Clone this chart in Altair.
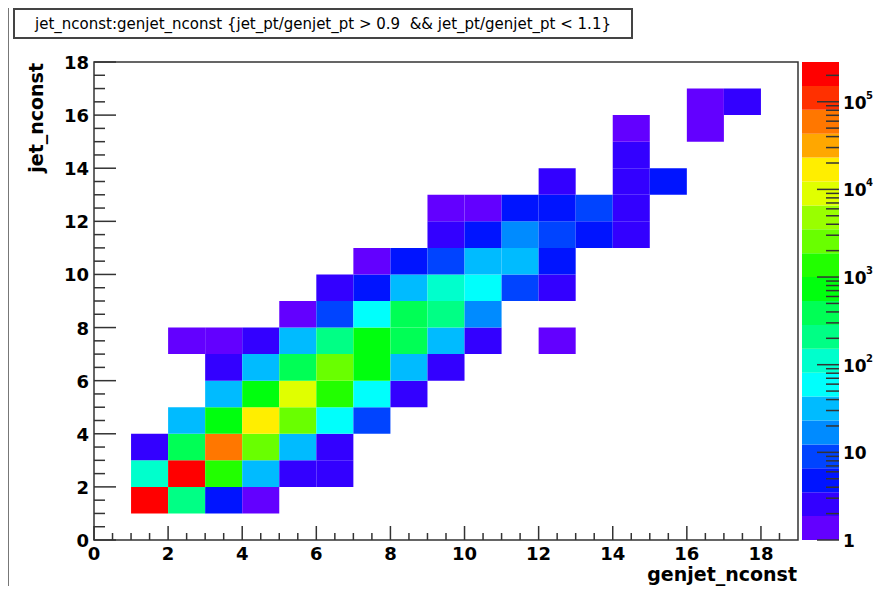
import math
import altair as alt
import pandas as pd

# ---------------- data ----------------
# lower edge of each filled bin (bin width 1) and its content
genjet_bin = [1, 2, 3, 4,
              1, 2, 3, 4, 5, 6,
              1, 2, 3, 4, 5, 6,
              2, 3, 4, 5, 6, 7,
              3, 4, 5, 6, 7, 8,
              3, 4, 5, 6, 7, 8, 9,
              2, 3, 4, 5, 6, 7, 8, 9, 10, 12,
              5, 6, 7, 8, 9, 10,
              6, 7, 8, 9, 10, 11, 12,
              7, 8, 9, 10, 11, 12,
              9, 10, 11, 12, 13, 14,
              9, 10, 11, 12, 13, 14,
              12, 14, 15,
              14,
              14, 16,
              16, 17]
jet_bin = [1, 1, 1, 1,
           2, 2, 2, 2, 2, 2,
           3, 3, 3, 3, 3, 3,
           4, 4, 4, 4, 4, 4,
           5, 5, 5, 5, 5, 5,
           6, 6, 6, 6, 6, 6, 6,
           7, 7, 7, 7, 7, 7, 7, 7, 7, 7,
           8, 8, 8, 8, 8, 8,
           9, 9, 9, 9, 9, 9, 9,
           10, 10, 10, 10, 10, 10,
           11, 11, 11, 11, 11, 11,
           12, 12, 12, 12, 12, 12,
           13, 13, 13,
           14,
           15, 15,
           16, 16]
counts = [275000, 210, 5, 1,
          110, 190000, 1400, 32, 3, 2,
          3, 420, 62000, 2700, 30, 2,
          28, 800, 18000, 2600, 60, 8,
          27, 900, 9000, 1300, 55, 2,
          2, 35, 380, 2400, 850, 30, 3,
          1, 1, 2, 33, 220, 700, 450, 26, 3, 1,
          1, 10, 65, 350, 190, 15,
          2, 5, 30, 100, 70, 8, 2,
          1, 4, 9, 25, 28, 4,
          2, 5, 14, 7, 4, 3,
          1, 1, 4, 5, 7, 2,
          2, 3, 4,
          2,
          1, 1,
          1, 2]

x_major = [0, 2, 4, 6, 8, 10, 12, 14, 16, 18]
y_major = [0, 2, 4, 6, 8, 10, 12, 14, 16, 18]
z_major = [1, 10, 100, 1000, 10000, 100000]
z_label_base = ["1", "10", "10", "10", "10", "10"]
z_label_exp = ["", "", "2", "3", "4", "5"]

TITLE = "jet_nconst:genjet_nconst {jet_pt/genjet_pt > 0.9\u00a0 && jet_pt/genjet_pt < 1.1}"
X_TITLE = "genjet_nconst"
Y_TITLE = "jet_nconst"

# ROOT "pretty" palette, 20 contour colours (violet -> red)
palette = ["#6300FF", "#3300FF", "#0014FF", "#0044FF", "#008BFF",
           "#00BBFF", "#00FFFC", "#00FFCC", "#00FF85", "#00FF55",
           "#00FF0E", "#22FF00", "#69FF00", "#99FF00", "#E0FF00",
           "#FFEE00", "#FFA700", "#FF7700", "#FF3000", "#FF0000"]
ZMAX = 2.84e5
NB = len(palette)

# ---------------- derived scale helpers ----------------
thr = [10 ** (k * math.log10(ZMAX) / NB) for k in range(1, NB)]
band_lo = [1.0] + thr
band_hi = thr + [ZMAX]

x_minor = [v / 2 for v in range(1, 38) if v % 4 != 0]
y_minor = [v / 2 for v in range(1, 36) if v % 4 != 0]
z_minor = [m * 10 ** e for e in range(0, 6) for m in range(2, 10) if m * 10 ** e < ZMAX]

W, H = 704, 478
FONT = "DejaVu Sans"
AX = "#333333"

cells = pd.DataFrame({"g": genjet_bin, "j": jet_bin, "n": counts})
one = pd.DataFrame({"a": [0]})

xs = alt.Scale(domain=[0, 19], nice=False, zero=False)
ys = alt.Scale(domain=[0, 18], nice=False, zero=False)
zs = alt.Scale(type="log", domain=[1, ZMAX], nice=False)

heat = (
    alt.Chart(cells)
    .transform_calculate(g2="datum.g + 1", j2="datum.j + 1")
    .mark_rect()
    .encode(
        x=alt.X("g:Q", scale=xs, axis=None),
        x2="g2:Q",
        y=alt.Y("j:Q", scale=ys, axis=None),
        y2="j2:Q",
        color=alt.Color("n:Q", scale=alt.Scale(type="threshold", domain=thr, range=palette),
                        legend=None),
    )
)

def xticks(vals, length):
    return alt.Chart(pd.DataFrame({"v": vals})).mark_rule(color=AX, strokeWidth=1.5).encode(
        x=alt.X("v:Q", scale=xs, axis=None), y=alt.value(H), y2=alt.value(H - length))

def yticks(vals, length):
    return alt.Chart(pd.DataFrame({"v": vals})).mark_rule(color=AX, strokeWidth=1.5).encode(
        y=alt.Y("v:Q", scale=ys, axis=None), x=alt.value(0), x2=alt.value(length))

txt = dict(font=FONT, fontSize=18, fontWeight="bold", color="black")
ttl = dict(font=FONT, fontSize=19, fontWeight="bold", color="black")

x_labels = alt.Chart(pd.DataFrame({"v": x_major})).mark_text(
    align="center", baseline="middle", **txt
).encode(x=alt.X("v:Q", scale=xs, axis=None), y=alt.value(H + 15), text=alt.Text("v:Q", format="d"))

y_labels = alt.Chart(pd.DataFrame({"v": y_major})).mark_text(
    align="right", baseline="middle", dy=2, **txt
).encode(y=alt.Y("v:Q", scale=ys, axis=None), x=alt.value(-5), text=alt.Text("v:Q", format="d"))

x_title = alt.Chart(one).mark_text(text=X_TITLE, align="right", baseline="middle", **ttl).encode(
    x=alt.value(W - 1), y=alt.value(H + 35))
y_title = alt.Chart(one).mark_text(text=Y_TITLE, align="right", baseline="middle", angle=270, **ttl).encode(
    x=alt.value(-57), y=alt.value(1))

title_box = alt.Chart(one).mark_rect(fill="white", stroke="#444444", strokeWidth=2).encode(
    x=alt.value(-80), x2=alt.value(538), y=alt.value(-53), y2=alt.value(-24))
title_txt = alt.Chart(one).mark_text(
    text=TITLE, font=FONT, fontSize=15, align="center", baseline="middle", color="black"
).encode(x=alt.value(229), y=alt.value(-38))
left_line = alt.Chart(one).mark_rule(color="#777777", strokeWidth=1).encode(
    x=alt.value(-85.5), y=alt.value(-54), y2=alt.value(H + 46))

main = alt.layer(heat, xticks(x_major, 14), xticks(x_minor, 7),
                 yticks(y_major, 22), yticks(y_minor, 11),
                 x_labels, y_labels, x_title, y_title,
                 title_box, title_txt, left_line)

# ---------------- colour bar ----------------
CB0, CB1 = 708, 745
bands = pd.DataFrame({"lo": band_lo, "hi": band_hi, "c": palette})
cb_rect = alt.Chart(bands).mark_rect().encode(
    y=alt.Y("lo:Q", scale=zs, axis=None), y2="hi:Q",
    x=alt.value(CB0), x2=alt.value(CB1),
    fill=alt.Fill("c:N", scale=None))

def zticks(vals, length):
    return alt.Chart(pd.DataFrame({"v": vals})).mark_rule(color=AX, strokeWidth=1.5).encode(
        y=alt.Y("v:Q", scale=zs, axis=None), x=alt.value(CB1), x2=alt.value(CB1 - length))

zlab = pd.DataFrame({"v": z_major, "b": z_label_base, "e": z_label_exp})
cb_lab = alt.Chart(zlab).mark_text(
    font=FONT, fontSize=17, fontWeight="bold", align="left", baseline="middle", color="black", dy=2
).encode(y=alt.Y("v:Q", scale=zs, axis=None), x=alt.value(749), text="b:N")
cb_exp = alt.Chart(zlab).mark_text(
    font=FONT, fontSize=10, fontWeight="bold", align="left", baseline="middle", color="black", dy=-6
).encode(y=alt.Y("v:Q", scale=zs, axis=None), x=alt.value(772), text="e:N")

cbar = alt.layer(cb_rect, zticks(z_major, 22), zticks(z_minor, 13), cb_lab, cb_exp)

chart = (
    alt.layer(main, cbar)
    .resolve_scale(y="independent")
    .properties(width=W, height=H,
                autosize=alt.AutoSizeParams(type="none"),
                padding={"left": 86, "top": 54, "right": 75, "bottom": 46})
    .configure_view(stroke=AX, strokeWidth=1.5)
)

chart.save("out.html", embed_options={"renderer": "svg", "actions": False})
